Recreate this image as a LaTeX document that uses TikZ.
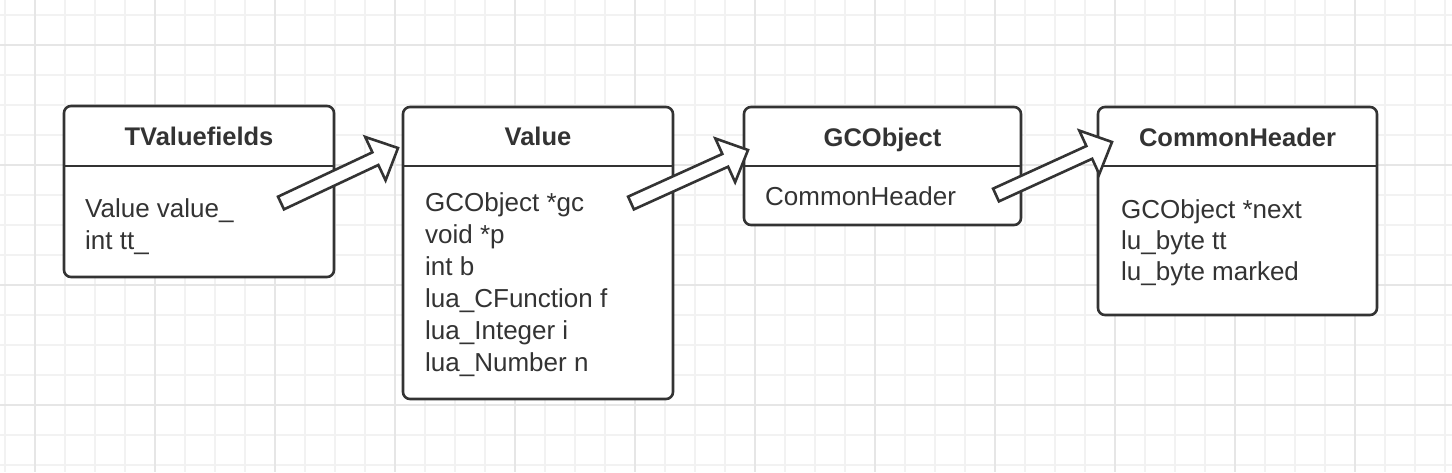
\documentclass[tikz,border=0pt]{standalone}
\usepackage{fontspec}
\setmainfont{Liberation Sans}
\usetikzlibrary{calc}
\definecolor{ink}{HTML}{333333}
\definecolor{gridminor}{HTML}{F2F2F2}
\definecolor{gridmajor}{HTML}{E6E6E6}
\tikzset{
  umlbox/.style={draw=ink, line width=2.6pt, rounded corners=7pt, fill=white, inner sep=0pt, outer sep=0pt, anchor=north west},
  divider/.style={draw=ink, line width=2.6pt},
  title/.style={font=\fontsize{25.5}{30}\selectfont\bfseries, text=ink, anchor=base, inner sep=0pt},
  field/.style={font=\fontsize{26}{32}\selectfont, text=ink, anchor=base west, inner sep=0pt},
  blockarrow/.style={draw=ink, line width=2.6pt, fill=white, line join=miter},
  gridmin/.style={draw=gridminor, line width=1.4pt},
  gridmaj/.style={draw=gridmajor, line width=1.6pt},
}
\newcommand\blockarr[2]{%
  \coordinate (nk) at ($(#2)!25pt!(#1)$);
  \draw[blockarrow] ($(#1)!7pt!90:(#2)$) -- ($(nk)!7pt!90:(#2)$) -- ($(nk)!24pt!90:(#2)$)
    -- (#2) -- ($(nk)!24pt!-90:(#2)$) -- ($(nk)!7pt!-90:(#2)$) -- ($(#1)!7pt!-90:(#2)$) -- cycle;
}
\begin{document}
\begin{tikzpicture}[x=1pt,y=-1pt]
\fill[white] (0,0) rectangle (1452,472);
\useasboundingbox (0,0) rectangle (1452,472);
% grid
\foreach \x in {5,35,...,1450} \draw[gridmin] (\x,0) -- (\x,472);
\foreach \y in {15,45,...,470} \draw[gridmin] (0,\y) -- (1452,\y);
\foreach \x in {35,155,...,1450} \draw[gridmaj] (\x,0) -- (\x,472);
\foreach \y in {45,165,...,470} \draw[gridmaj] (0,\y) -- (1452,\y);

% TValuefields
\node[umlbox, minimum width=270pt, minimum height=171pt] (tv) at (64,106) {};
\draw[divider] ($(tv.north west)+(0,60)$) -- ($(tv.north east)+(0,60)$);
\node[title] (tvt) at ($(tv.north)+(0,39)$) {TValuefields};
\node[field] (tv1) at (85,217) {Value value\_};
\node[field] (tv2) at (85,249) {int tt\_};

% Value
\node[umlbox, minimum width=270pt, minimum height=292pt] (vl) at (403,107) {};
\draw[divider] ($(vl.north west)+(0,59)$) -- ($(vl.north east)+(0,59)$);
\node[title] (vlt) at ($(vl.north)+(0,38)$) {Value};
\node[field] (vl1) at (425,211) {GCObject *gc};
\node[field] (vl2) at (425,243) {void *p};
\node[field] (vl3) at (425,275) {int b};
\node[field] (vl4) at (425,307) {lua\_CFunction f};
\node[field] (vl5) at (425,339) {lua\_Integer i};
\node[field] (vl6) at (425,371) {lua\_Number n};

% GCObject
\node[umlbox, minimum width=277pt, minimum height=118pt] (gc) at (744,107) {};
\draw[divider] ($(gc.north west)+(0,59)$) -- ($(gc.north east)+(0,59)$);
\node[title] (gct) at ($(gc.north)+(0,39)$) {GCObject};
\node[field] (gc1) at (765,205) {CommonHeader};

% CommonHeader
\node[umlbox, minimum width=279pt, minimum height=208pt] (ch) at (1098,107) {};
\draw[divider] ($(ch.north west)+(0,59)$) -- ($(ch.north east)+(0,59)$);
\node[title] (cht) at ($(ch.north)+(0,39)$) {CommonHeader};
\node[field] (ch1) at (1121,218) {GCObject *next};
\node[field] (ch2) at (1121,249) {lu\_byte tt};
\node[field] (ch3) at (1121,280) {lu\_byte marked};

% block arrows
\coordinate (a1t) at (281,203); \coordinate (a1p) at (398,148);
\coordinate (a2t) at (631,203); \coordinate (a2p) at (748,150);
\coordinate (a3t) at (996,195); \coordinate (a3p) at (1112,142);
\blockarr{a1t}{a1p}
\blockarr{a2t}{a2p}
\blockarr{a3t}{a3p}
\end{tikzpicture}
\end{document}
